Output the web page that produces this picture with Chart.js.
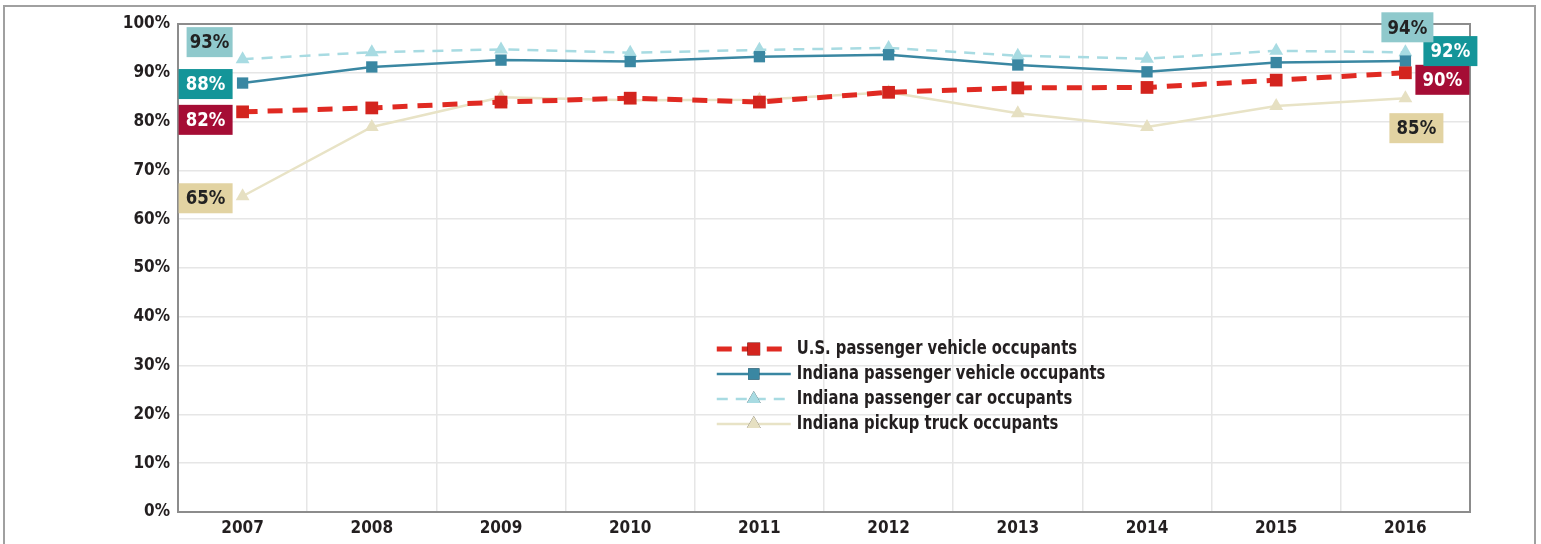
<!DOCTYPE html>
<html>
<head>
<meta charset="utf-8">
<script src="https://cdn.jsdelivr.net/npm/chart.js@4.4.0/dist/chart.umd.min.js"></script>
<style>
  html, body { margin: 0; padding: 0; background: #fff; }
  #frame {
    position: absolute; left: 3px; top: 5px; width: 1533px; height: 560px;
    border: 2px solid #a0a0a0; border-bottom: none; box-sizing: border-box;
  }
  #wrap { position: absolute; left: 0; top: 0; width: 1541px; height: 544px; }
</style>
</head>
<body>
<div id="frame"></div>
<div id="wrap"><canvas id="chart"></canvas></div>
<script>
// Chart data
const years = ["2007", "2008", "2009", "2010", "2011", "2012", "2013", "2014", "2015", "2016"];
const usPassengerVehicle = [82, 82.8, 84, 84.8, 84, 86, 86.9, 87, 88.5, 90];
const indianaPassengerVehicle = [87.9, 91.2, 92.6, 92.3, 93.3, 93.7, 91.6, 90.2, 92.1, 92.4];
const indianaPassengerCar = [92.8, 94.2, 94.8, 94.1, 94.7, 95.1, 93.5, 92.9, 94.5, 94.2];
const indianaPickupTruck = [64.7, 78.9, 85, 84.4, 84.5, 86, 81.7, 78.9, 83.2, 84.8];
const yTicks = [0, 10, 20, 30, 40, 50, 60, 70, 80, 90, 100];

const FONT = "'Liberation Sans Narrow', 'DejaVu Sans Condensed', sans-serif";

// value callout boxes at the first and last point of each series
// [dx, dy, boxWidth, background, textColor] relative to the point
const callouts = [
  { first: [-37, 8, 54, "#a50d35", "#fff"], last: [37, 7, 54, "#a50d35", "#fff"] },
  { first: [-37, 1, 54, "#149599", "#fff"], last: [45, -10, 54, "#149599", "#fff"] },
  { first: [-33, -17, 46, "#8fc9cc", "#222"], last: [2, -25, 52, "#8fc9cc", "#222"] },
  { first: [-37, 2, 54, "#e2d3a2", "#222"], last: [11, 30, 54, "#e2d3a2", "#222"] },
];

// draw text squeezed horizontally to mimic a condensed face
function narrowText(ctx, text, x, y, sx) {
  ctx.save();
  ctx.translate(x, y);
  ctx.scale(sx, 1);
  ctx.fillText(text, 0, 0);
  ctx.restore();
}

const calloutPlugin = {
  id: "callouts",
  afterDatasetsDraw(chart) {
    const ctx = chart.ctx;
    ctx.save();
    ctx.font = "bold 20px " + FONT;
    ctx.textAlign = "center";
    ctx.textBaseline = "middle";
    chart.data.datasets.forEach((ds, i) => {
      const meta = chart.getDatasetMeta(i);
      const n = meta.data.length;
      [["first", 0], ["last", n - 1]].forEach(([key, idx]) => {
        const [dx, dy, w, bg, fg] = callouts[i][key];
        const pt = meta.data[idx];
        const cx = pt.x + dx, cy = pt.y + dy;
        ctx.fillStyle = bg;
        ctx.fillRect(cx - w / 2, cy - 15, w, 30);
        ctx.fillStyle = fg;
        narrowText(ctx, Math.round(ds.data[idx]) + "%", cx, cy + 1, 0.92);
      });
    });
    ctx.restore();
  },
};

// legend drawn inside the plot area
const legendPlugin = {
  id: "innerLegend",
  afterDraw(chart) {
    const ctx = chart.ctx;
    const { left, top, width } = chart.chartArea;
    const x0 = left + width * 0.417;
    const y0 = top + 325;
    ctx.save();
    chart.data.datasets.forEach((ds, i) => {
      const y = y0 + i * 25;
      ctx.strokeStyle = ds.borderColor;
      ctx.lineWidth = ds.borderWidth;
      ctx.setLineDash(ds.borderDash || []);
      ctx.beginPath();
      ctx.moveTo(x0, y);
      ctx.lineTo(x0 + 74, y);
      ctx.stroke();
      ctx.setLineDash([]);
      Chart.helpers.drawPoint(ctx, {
        pointStyle: ds.pointStyle, radius: ds.pointRadius, borderWidth: 0, rotation: 0,
      }, x0 + 37, y);
      ctx.fillStyle = ds.pointBackgroundColor;
      ctx.fill();
      ctx.fillStyle = "#231f20";
      ctx.font = "bold 19px " + FONT;
      ctx.textBaseline = "middle";
      ctx.textAlign = "left";
      narrowText(ctx, ds.label, x0 + 80, y, 0.865);
    });
    ctx.restore();
  },
};

const plotBorder = {
  id: "plotBorder",
  beforeDatasetsDraw(chart) {
    const { left, top, right, bottom } = chart.chartArea;
    const ctx = chart.ctx;
    ctx.save();
    ctx.strokeStyle = "#8c8c8c";
    ctx.lineWidth = 2;
    ctx.strokeRect(left, top, right - left, bottom - top);
    ctx.restore();
  },
};

new Chart(document.getElementById("chart"), {
  type: "line",
  data: {
    labels: years,
    datasets: [
      {
        label: "U.S. passenger vehicle occupants",
        data: usPassengerVehicle,
        borderColor: "#e02a22",
        borderWidth: 5,
        borderDash: [15, 10],
        pointStyle: "rect",
        pointRadius: 9,
        pointBackgroundColor: "#d3241e",
        pointBorderWidth: 0,
      },
      {
        label: "Indiana passenger vehicle occupants",
        data: indianaPassengerVehicle,
        borderColor: "#3a87a2",
        borderWidth: 2.5,
        pointStyle: "rect",
        pointRadius: 8,
        pointBackgroundColor: "#3a87a2",
        pointBorderWidth: 0,
      },
      {
        label: "Indiana passenger car occupants",
        data: indianaPassengerCar,
        borderColor: "#a8dbe2",
        borderWidth: 2.5,
        borderDash: [11, 8],
        pointStyle: "triangle",
        pointRadius: 8,
        pointBackgroundColor: "#a8dbe2",
        pointBorderWidth: 0,
      },
      {
        label: "Indiana pickup truck occupants",
        data: indianaPickupTruck,
        borderColor: "#e8e3c6",
        borderWidth: 2.5,
        pointStyle: "triangle",
        pointRadius: 8,
        pointBackgroundColor: "#e6e0c2",
        pointBorderWidth: 0,
      },
    ],
  },
  options: {
    responsive: true,
    maintainAspectRatio: false,
    animation: false,
    layout: { padding: { top: 24, right: 71, bottom: 0, left: 0 } },
    plugins: {
      legend: { display: false },
      tooltip: { enabled: false },
    },
    scales: {
      x: {
        offset: true,
        grid: { offset: true, color: "#e6e6e6", lineWidth: 1.5, drawTicks: false },
        border: { display: false },
        ticks: {
          color: "#231f20",
          font: { family: FONT, size: 17, weight: "bold" },
          padding: 6,
          maxRotation: 0,
        },
        afterFit: (scale) => { scale.height = 32; },
      },
      y: {
        min: 0,
        max: 100,
        afterBuildTicks: (scale) => { scale.ticks = yTicks.map((v) => ({ value: v })); },
        grid: { color: "#e6e6e6", lineWidth: 1.5, drawTicks: false },
        border: { display: false },
        ticks: {
          color: "#231f20",
          font: { family: FONT, size: 17, weight: "bold" },
          padding: 8,
          callback: (v) => v + "%",
        },
        afterFit: (scale) => { scale.width = 178; },
      },
    },
  },
  plugins: [plotBorder, calloutPlugin, legendPlugin],
});
</script>
</body>
</html>
